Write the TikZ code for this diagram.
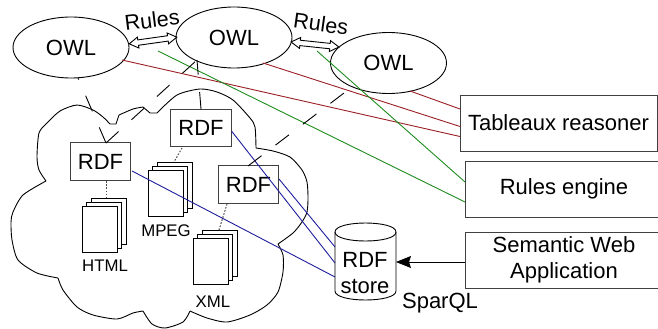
\documentclass[tikz,border=0pt]{standalone}
\usepackage{fontspec}
\setmainfont{Liberation Sans}
\usetikzlibrary{shapes.geometric,arrows.meta}
\definecolor{redl}{HTML}{9A1F24}
\definecolor{greenl}{HTML}{1E8C1E}
\definecolor{bluel}{HTML}{1E1E9C}
\newcommand{\bigf}{\fontsize{22}{26}\selectfont}
\newcommand{\smallf}{\fontsize{16.8}{20}\selectfont}
\tikzset{
  every node/.style={outer sep=0pt,inner sep=0pt},
  owl/.style={draw,ellipse,line width=0.9pt,minimum width=116pt,minimum height=61pt,font=\bigf},
  rdfbox/.style={draw=black!75,line width=1.1pt,minimum width=60.5pt,minimum height=37.5pt,font=\bigf},
  toolbox/.style={draw=black!75,line width=1pt,minimum height=56pt,align=center,font=\bigf},
  page/.style={draw,fill=white,line width=0.9pt,minimum width=35pt,minimum height=46pt},
  caption/.style={font=\smallf},
  txt/.style={font=\bigf},
  rulearrow/.style={draw,fill=white,line width=0.9pt,line join=miter},
  longdash/.style={line width=0.9pt,dash pattern=on 17pt off 17.5pt},
  dots/.style={line width=1pt,draw=black!70,dash pattern=on 1.6pt off 1.6pt},
  redline/.style={draw=redl,line width=0.9pt},
  greenline/.style={draw=greenl,line width=0.9pt},
  blueline/.style={draw=bluel,line width=0.9pt},
  cloudline/.style={line width=0.9pt,line join=round}
}
\begin{document}
\begin{tikzpicture}[x=1pt,y=-1pt]
\useasboundingbox (0,0) rectangle (658,329);
% cloud
\draw[cloudline] plot[smooth,tension=0.45] coordinates {(46,181) (39,170) (37,157) (39,133) (47,123) (60,111) (77,105) (93,110) (103,117) (110,124)} -- (116,124) -- (119,115)
  plot[smooth,tension=0.4] coordinates {(119,115) (133,109) (143,107)} -- (150,113) -- (157,113)
  plot[smooth,tension=0.45] coordinates {(157,113) (177,95) (200,89) (217,92) (233,100) (250,118) (255,127) (256,148)}
  plot[smooth,tension=0.45] coordinates {(256,148) (273,151) (290,157) (302,170) (307,182) (308,198) (307,212) (302,222) (293,233) (278,244)}
  plot[smooth,tension=0.45] coordinates {(278,244) (283,255) (283,272) (278,292) (267,305) (250,315) (227,322) (207,318) (190,311)}
  plot[smooth,tension=0.45] coordinates {(190,311) (183,322) (165,328) (152,324) (143,311)}
  plot[smooth,tension=0.45] coordinates {(143,311) (133,313) (117,319) (93,315) (77,307) (63,290) (58,278)}
  plot[smooth,tension=0.45] coordinates {(58,278) (37,273) (18,260) (12,240) (11,222) (13,212) (23,195) (46,181)};
% ellipses
\node[owl] (owla) at (71,47.5) {OWL};
\node[owl] (owlb) at (234,37.5) {OWL};
\node[owl] (owlc) at (388.5,63) {OWL};
% rule arrows
\begin{scope}[shift={(153,40.5)},rotate=8]
\draw[rulearrow] (-24,0) -- (-15,5.5) -- (-15,2.7) -- (15,2.7) -- (15,5.5) -- (24,0) -- (15,-5.5) -- (15,-2.7) -- (-15,-2.7) -- (-15,-5.5) -- cycle;
\end{scope}
\begin{scope}[shift={(315,44.5)},rotate=-6]
\draw[rulearrow] (-24,0) -- (-15,5.5) -- (-15,2.7) -- (15,2.7) -- (15,5.5) -- (24,0) -- (15,-5.5) -- (15,-2.7) -- (-15,-2.7) -- (-15,-5.5) -- cycle;
\end{scope}
\node[font=\fontsize{21.5}{26}\selectfont,rotate=7] (rulesa) at (152,20) {Rules};
\node[font=\fontsize{21.5}{26}\selectfont,rotate=-8] (rulesb) at (321,24) {Rules};
% tool boxes
\node[toolbox,minimum width=197pt] (tab) at (558.5,123) {Tableaux reasoner};
\node[toolbox,minimum width=198pt] (eng) at (564,189) {Rules engine};
\node[toolbox,minimum width=198pt] (app) at (564,260) {Semantic Web\\[0pt]Application};
% rdf boxes
\node[rdfbox] (rdfa) at (100.5,161.5) {RDF};
\node[rdfbox] (rdfb) at (201,128) {RDF};
\node[rdfbox] (rdfc) at (248.5,184.5) {RDF};
% document stacks
\node[page] (htmlc) at (108.5,221) {};
\node[page] (htmlb) at (104,225) {};
\node[page] (htmla) at (99.5,229) {};
\node[caption] (htmlt) at (105,265.5) {HTML};
\node[page] (mpegc) at (174.5,185) {};
\node[page] (mpegb) at (170,189) {};
\node[page] (mpega) at (165.5,193.5) {};
\node[caption] (mpegt) at (166,231) {MPEG};
\node[page] (xmlc) at (219.5,253) {};
\node[page] (xmlb) at (215,257) {};
\node[page] (xmla) at (210.5,261) {};
\node[caption] (xmlt) at (213,301.5) {XML};
% store: a drum drawn directly
\draw[line width=0.9pt] (335,232) -- (335,291) .. controls (335,303) and (396,303) .. (396,291) -- (396,232);
\draw[line width=0.9pt] (335,232) .. controls (335,220) and (396,220) .. (396,232) .. controls (396,244) and (335,244) .. (335,232);
\node[txt,align=center] (storet) at (365,273) {RDF\\[0pt]store};
\node[txt] (sparql) at (440,303) {SparQL};
% endpoints
\coordinate (ra) at (122,60); \coordinate (rb) at (263,63); \coordinate (rc) at (410,91);
\coordinate (ta) at (460,136.5); \coordinate (tb) at (460,126.5); \coordinate (tc) at (460,109);
\coordinate (ga) at (158,51); \coordinate (gb) at (317,51);
\coordinate (ea) at (465,202); \coordinate (eb) at (465,182);
\coordinate (ba) at (132,171); \coordinate (bb) at (231.5,131); \coordinate (bc) at (279,179);
\coordinate (sa) at (335,277); \coordinate (sb) at (335,263); \coordinate (sc) at (335,247);
\draw[redline] (ra) -- (ta);
\draw[redline] (rb) -- (tb);
\draw[redline] (rc) -- (tc);
\draw[greenline] (ga) -- (ea);
\draw[greenline] (gb) -- (eb);
\draw[blueline] (ba) -- (sa);
\draw[blueline] (bb) -- (sb);
\draw[blueline] (bc) -- (sc);
% dashed links
\coordinate (da) at (106,143); \coordinate (db) at (201,109); \coordinate (dc) at (248,166);
\coordinate (ua) at (78,78); \coordinate (ub) at (197,60); \coordinate (uc) at (344,93);
\draw[longdash] (da) -- (ua);
\draw[longdash] (da) -- (ub);
\draw[longdash] (db) -- (ub);
\draw[longdash] (dc) -- (uc);
% dotted links
\coordinate (pa) at (106,181); \coordinate (qa) at (106,198);
\coordinate (pb) at (182,148); \coordinate (qb) at (174,162);
\coordinate (pc) at (227,204); \coordinate (qc) at (219,230);
\draw[dots] (pa) -- (qa);
\draw[dots] (pb) -- (qb);
\draw[dots] (pc) -- (qc);
% query
\coordinate (appw) at (465,262); \coordinate (storee) at (396,262);
\draw[line width=0.9pt,-{Stealth[length=15pt,width=12pt,inset=2pt]}] (appw) -- (storee);
\end{tikzpicture}
\end{document}
